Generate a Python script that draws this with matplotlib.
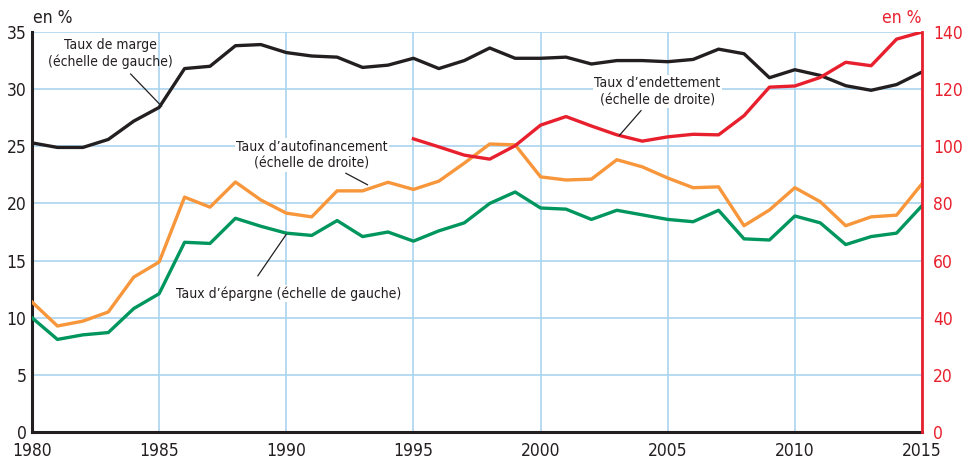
import matplotlib
matplotlib.use("Agg")
import matplotlib.pyplot as plt
from matplotlib import font_manager

# font: narrow sans if present
names = {f.name for f in font_manager.fontManager.ttflist}
if "Liberation Sans Narrow" in names:
    plt.rcParams["font.family"] = ["Liberation Sans Narrow", "DejaVu Sans"]
else:
    plt.rcParams["font.family"] = ["DejaVu Sans"]
    plt.rcParams["font.stretch"] = "condensed"

years = list(range(1980, 2016))
years_dette = list(range(1995, 2016))

taux_marge = [25.3, 24.9, 24.9, 25.6, 27.2, 28.4, 31.8, 32.0, 33.8, 33.9,
              33.2, 32.9, 32.8, 31.9, 32.1, 32.7, 31.8, 32.5, 33.6, 32.7,
              32.7, 32.8, 32.2, 32.5, 32.5, 32.4, 32.6, 33.5, 33.1, 31.0,
              31.7, 31.2, 30.3, 29.9, 30.4, 31.5]
taux_epargne = [10.0, 8.1, 8.5, 8.7, 10.8, 12.1, 16.6, 16.5, 18.7, 18.0,
                17.4, 17.2, 18.5, 17.1, 17.5, 16.7, 17.6, 18.3, 20.0, 21.0,
                19.6, 19.5, 18.6, 19.4, 19.0, 18.6, 18.4, 19.4, 16.9, 16.8,
                18.9, 18.3, 16.4, 17.1, 17.4, 19.8]
taux_autofin = [45.5, 37.1, 38.8, 42.0, 54.2, 59.5, 82.2, 78.7, 87.5, 81.2,
                76.6, 75.3, 84.4, 84.4, 87.4, 84.9, 87.8, 94.1, 100.8, 100.5,
                89.3, 88.2, 88.5, 95.3, 92.8, 88.9, 85.5, 85.8, 72.2, 77.7,
                85.5, 80.6, 72.2, 75.3, 75.9, 86.9]
taux_dette = [102.6, 99.8, 96.9, 95.5, 100.2, 107.4, 110.4, 107.1, 104.0,
              101.8, 103.3, 104.2, 104.0, 110.7, 120.7, 121.1, 124.1, 129.4,
              128.2, 137.5, 140.0]

BLACK = "#231f20"
GREEN = "#00965e"
ORANGE = "#f7963a"
RED = "#e8202e"
GRID = "#aad4ef"

fig = plt.figure(figsize=(9.67, 4.61), dpi=100)
ax = fig.add_axes([32 / 967, 29 / 461, 890 / 967, 400 / 461])
ax2 = ax.twinx()

ax.set_xlim(1980, 2015)
ax.set_ylim(0, 35)
ax2.set_ylim(0, 140)

ax.set_xticks(range(1980, 2016, 5))
ax.set_yticks(range(0, 36, 5))
ax2.set_yticks(range(0, 141, 20))
ax.grid(True, color=GRID, lw=1.2)
ax.set_axisbelow(True)

ax.tick_params(length=0, labelsize=12.5, colors="#231f20")
ax.tick_params(axis="x", pad=7.5)
ax.tick_params(axis="y", pad=4)
ax2.tick_params(length=0, labelsize=12.5, pad=8, colors=RED)

for a in (ax, ax2):
    a.spines["top"].set_visible(False)
ax.spines["left"].set_linewidth(2.2)
ax.spines["left"].set_color(BLACK)
ax.spines["bottom"].set_linewidth(2.2)
ax.spines["bottom"].set_color(BLACK)
ax.spines["right"].set_visible(False)
ax2.spines["left"].set_visible(False)
ax2.spines["bottom"].set_visible(False)
ax2.spines["right"].set_color(RED)
ax2.spines["right"].set_linewidth(2.0)

lw = 2.4
ax2.plot(years, taux_autofin, color=ORANGE, lw=lw, zorder=2)
ax.plot(years, taux_epargne, color=GREEN, lw=lw, zorder=3)
ax.plot(years, taux_marge, color=BLACK, lw=lw, zorder=3)
ax2.plot(years_dette, taux_dette, color=RED, lw=lw, zorder=3)

# labels and leader lines
fs = 10
ax.annotate("Taux de marge\n(échelle de gauche)", xy=(1985.1, 28.5),
            xytext=(1983.1, 34.5), ha="center", va="top", fontsize=fs,
            linespacing=1.25, color=BLACK,
            arrowprops=dict(arrowstyle="-", color=BLACK, lw=0.9,
                            shrinkA=2, shrinkB=0))
ax2.annotate("Taux d\u2019autofinancement\n(échelle de droite)",
             xy=(1993.2, 86.5), xytext=(1991.0, 102.3), ha="center",
             va="top", fontsize=fs, linespacing=1.25, color=BLACK,
             bbox=dict(boxstyle="square,pad=0.1", fc="white", ec="none"),
             arrowprops=dict(arrowstyle="-", color=BLACK, lw=0.9,
                             shrinkA=2, shrinkB=0))
ax2.annotate("Taux d\u2019endettement\n(échelle de droite)",
             xy=(2003.1, 103.8), xytext=(2004.6, 124.5), ha="center",
             va="top", fontsize=fs, linespacing=1.25, color=BLACK,
             bbox=dict(boxstyle="square,pad=0.1", fc="white", ec="none"),
             arrowprops=dict(arrowstyle="-", color=BLACK, lw=0.9,
                             shrinkA=2, shrinkB=0))
ax.annotate("Taux d\u2019épargne (échelle de gauche)", xy=(1990.0, 17.3),
            xytext=(1990.1, 12.1), ha="center", va="center", fontsize=fs,
            color=BLACK,
            bbox=dict(boxstyle="square,pad=0.1", fc="white", ec="none"),
            arrowprops=dict(arrowstyle="-", color=BLACK, lw=0.9,
                            shrinkA=8, shrinkB=0, relpos=(0.33, 1.0)))

fig.text(33 / 967, 1 - 18 / 461, "en %", fontsize=12.5, color=BLACK,
         ha="left", va="center")
fig.text(922 / 967, 1 - 18 / 461, "en %", fontsize=12.5, color=RED,
         ha="right", va="center")

fig.savefig("out.png", dpi=100)
